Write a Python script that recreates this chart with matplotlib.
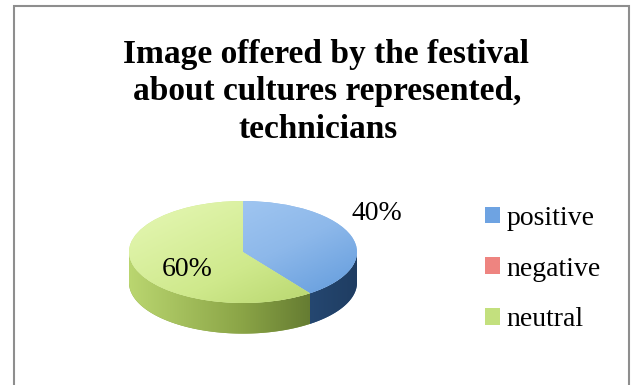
import numpy as np
import matplotlib
matplotlib.use("Agg")
import matplotlib.pyplot as plt
from matplotlib.colors import LinearSegmentedColormap
from matplotlib.patches import Patch, Polygon, Rectangle

# chart data
labels = ["positive", "negative", "neutral"]
shares = [40, 0, 60]
title_lines = ["Image offered by the festival",
               "about cultures represented,",
               "technicians"]

# look
SERIF = "Liberation Serif"
top_shades = [["#aed0f6", "#8db8ea", "#4e8ed6"],
              ["#f8b0ae", "#f08a87", "#dc5652"],
              ["#e6f8b6", "#cfe98c", "#a8c95a"]]
side_shades = [["#3f6b9c", "#2d5585", "#1f3d62"],
               ["#b44c49", "#9a3c39", "#742624"],
               ["#bad670", "#8aa446", "#4c6024"]]
legend_colors = ["#6ea3e2", "#ee8480", "#c3e07e"]
label_offsets = [(1.235, 2.47), None, (0.515, 1.14)]   # radial factors (x, y)
DEPTH = 0.6


def gradient_fill(ax, patch, colors, wx, wy, extent, z):
    cmap = LinearSegmentedColormap.from_list("shade", colors)
    u, v = np.meshgrid(np.linspace(0, 1, 256), np.linspace(0, 1, 256))
    g = (wx * u + wy * v) / (wx + wy)
    im = ax.imshow(g, cmap=cmap, extent=extent, aspect="auto",
                   interpolation="bilinear", zorder=z, vmin=0, vmax=1)
    im.set_clip_path(patch)


def side_pieces(t1, t2, depth, n=120):
    """Front wall of a wedge: the part of its arc lying on the lower half."""
    pieces = []
    for k in range(-2, 2):
        lo = max(t1, 180 + 360 * k)
        hi = min(t2, 360 + 360 * k)
        if hi > lo:
            th = np.radians(np.linspace(lo, hi, n))
            x, y = np.cos(th), np.sin(th)
            pts = np.column_stack([np.r_[x, x[::-1]], np.r_[y, y[::-1] - depth]])
            pieces.append(pts)
    return pieces


fig = plt.figure(figsize=(6.4, 3.85), dpi=100)
ax = fig.add_axes([117.6 / 640, 41.2 / 385, 250.8 / 640, 153 / 385])

wedges, _ = ax.pie(shares, startangle=90, counterclock=False, radius=1,
                   wedgeprops=dict(linewidth=0))

full = [-1, 1, -1 - DEPTH, 1]
for i, w in enumerate(wedges):
    if w.theta2 - w.theta1 <= 0:
        continue
    w.set_facecolor(top_shades[i][1])
    w.set_zorder(3)
    gradient_fill(ax, w, top_shades[i], 1.0, 1.2, full, 4)
    for pts in side_pieces(w.theta1, w.theta2, DEPTH):
        wall = Polygon(pts, closed=True, facecolor=side_shades[i][1],
                       linewidth=0, zorder=1)
        ax.add_patch(wall)
        gradient_fill(ax, wall, side_shades[i], 1.0, 0.0001, full, 2)

    fx, fy = label_offsets[i]
    mid = np.radians((w.theta1 + w.theta2) / 2)
    ax.text(fx * np.cos(mid), fy * np.sin(mid), f"{shares[i]}%",
            ha="center", va="center", fontsize=20, family=SERIF,
            color="black", zorder=6, clip_on=False)

ax.set_aspect("auto")
ax.set_xlim(-1.1, 1.1)
ax.set_ylim(-1.8, 1.2)
ax.axis("off")

# title, one line per text
for line, x, y in zip(title_lines, [326, 327, 318], [63, 100, 138]):
    fig.text(x / 640, 1 - y / 385, line, ha="center", va="baseline",
             fontsize=24, fontweight="bold", family=SERIF)

handles = [Patch(facecolor=c, linewidth=0) for c in legend_colors]
fig.legend(handles, labels, loc="center left",
           bbox_to_anchor=(485 / 640, 1 - 269 / 385),
           frameon=False, prop=dict(family=SERIF, size=20),
           handlelength=0.54, handleheight=0.54, handletextpad=0.22,
           labelspacing=0.93, borderpad=0, borderaxespad=0)

fig.add_artist(Rectangle((14 / 640, -0.05), 615 / 640, 1 - 6 / 385 + 0.05,
                         transform=fig.transFigure, fill=False,
                         edgecolor="#8e8e8e", linewidth=1.5))

fig.savefig("out.png", dpi=100)
